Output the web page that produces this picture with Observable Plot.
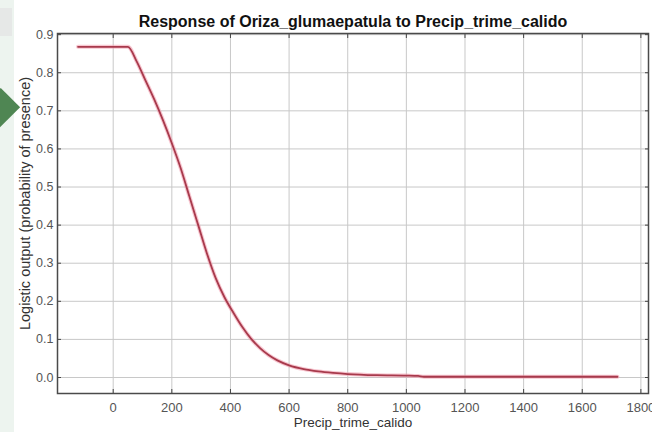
<!DOCTYPE html>
<html>
<head>
<meta charset="utf-8">
<script src="https://cdn.jsdelivr.net/npm/d3@7"></script>
<script src="https://cdn.jsdelivr.net/npm/@observablehq/plot@0.6"></script>
<style>
  html, body { margin: 0; padding: 0; background: #ffffff; width: 652px; height: 432px; overflow: hidden; }
  #wrap { position: relative; width: 652px; height: 432px; }
  #band { position: absolute; left: 0; top: 0; width: 14px; height: 432px; background: #edf4ef; }
  #box { position: absolute; left: 0; top: 8px; width: 12px; height: 28px; background: #e6e8e7; }
  #arrow { position: absolute; left: -22px; top: 92px; width: 38px; height: 38px; background: #4f8653; transform: rotate(45deg) scale(0.72, 1); }
  #chart { position: absolute; left: 0; top: 0; }
</style>
</head>
<body>
<div id="wrap">
  <div id="band"></div>
  <div id="box"></div>
  <div id="arrow"></div>
  <div id="chart"></div>
</div>
<script>
const titleText = "Response of Oriza_glumaepatula to Precip_trime_calido";
const xLabel = "Precip_trime_calido";
const yLabel = "Logistic output (probability of presence)";

const xTicks = [0, 200, 400, 600, 800, 1000, 1200, 1400, 1600, 1800];
const yTicks = [0.0, 0.1, 0.2, 0.3, 0.4, 0.5, 0.6, 0.7, 0.8, 0.9];

const precip = [-120, 50, 80, 110, 140, 170, 200, 230, 260, 290, 320, 350, 380, 410, 440, 470, 500, 530, 560, 600, 650, 700, 750, 800, 900, 1000, 1040, 1060, 1200, 1400, 1720];
const response = [0.868, 0.868, 0.83, 0.78, 0.73, 0.675, 0.615, 0.55, 0.475, 0.40, 0.325, 0.26, 0.21, 0.17, 0.133, 0.102, 0.078, 0.059, 0.045, 0.032, 0.022, 0.016, 0.012, 0.009, 0.006, 0.005, 0.004, 0.002, 0.002, 0.002, 0.002];

const data = precip.map((p, i) => ({p, r: response[i]}));

const chart = Plot.plot({
  width: 652,
  height: 432,
  marginLeft: 57,
  marginRight: 4,
  marginTop: 33,
  marginBottom: 39,
  style: { fontFamily: "'Liberation Sans', Arial, sans-serif", fontSize: "13px", color: "#333", background: "transparent" },
  x: { domain: [-190, 1826] },
  y: { domain: [-0.042, 0.903] },
  marks: [
    Plot.gridX(xTicks, { stroke: "#c8c8c8", strokeOpacity: 1, strokeWidth: 1 }),
    Plot.gridY(yTicks, { stroke: "#c8c8c8", strokeOpacity: 1, strokeWidth: 1 }),
    Plot.line(data, { x: "p", y: "r", stroke: "#f2a0b0", strokeWidth: 4, strokeOpacity: 0.6, curve: "monotone-x" }),
    Plot.line(data, { x: "p", y: "r", stroke: "#a83a4c", strokeWidth: 1.8, curve: "monotone-x" }),
    Plot.axisX(xTicks, { anchor: "bottom", tickSize: -4, tickPadding: 13, tickFormat: d => String(d), stroke: "#444", fill: "#555", fontSize: 13, label: null }),
    Plot.axisX(xTicks, { anchor: "top", tickSize: -4, tickFormat: () => "", stroke: "#444", label: null }),
    Plot.axisY(yTicks, { anchor: "left", tickSize: -4, tickPadding: 8, tickFormat: d3.format(".1f"), stroke: "#444", fill: "#555", fontSize: 12.5, label: null }),
    Plot.axisY(yTicks, { anchor: "right", tickSize: -4, tickFormat: () => "", stroke: "#444", label: null }),
    Plot.frame({ stroke: "#4a4a4a", strokeWidth: 1.5 }),
    Plot.text([titleText], { frameAnchor: "top", dy: -18, text: d => d, fontWeight: "bold", fontSize: 16, fill: "#111" }),
    Plot.text([xLabel], { frameAnchor: "bottom", dy: 33, text: d => d, fontSize: 13.5, fill: "#333" }),
    Plot.text([yLabel], { frameAnchor: "left", dx: -32, dy: -10, rotate: -90, textAnchor: "middle", text: d => d, fontSize: 14.5, fill: "#333" })
  ]
});
document.getElementById("chart").appendChild(chart);
</script>
</body>
</html>
